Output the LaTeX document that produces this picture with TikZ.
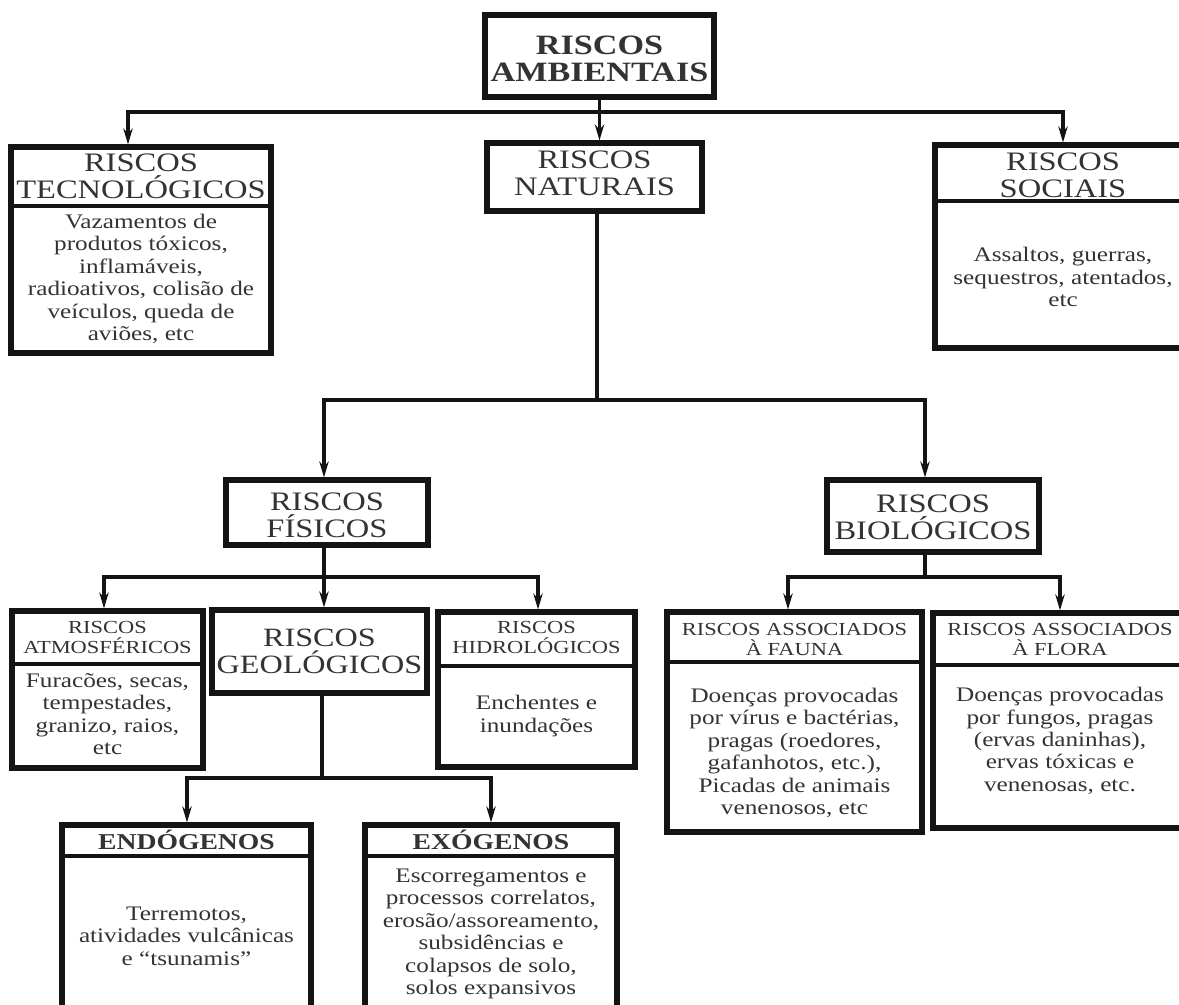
\documentclass[tikz,border=0pt]{standalone}
\usepackage{fontspec}
\setmainfont[FakeStretch=1.22]{Liberation Serif}
\usetikzlibrary{fit,arrows.meta}
\newcommand{\fhdr}{\fontsize{20}{20.3}\selectfont}
\newcommand{\fbdy}{\fontsize{15.5}{16.8}\selectfont}
\newcommand{\fsml}{\fontsize{13.8}{15}\selectfont}
\newcommand{\fgeo}{\fontsize{19.8}{20.3}\selectfont}
\newcommand{\famb}{\fontsize{21}{20.3}\selectfont\bfseries}
\newcommand{\fendo}{\fontsize{17}{18}\selectfont\bfseries}
\begin{document}
\begin{tikzpicture}[x=0.75pt,y=-0.75pt,
  box/.style={draw=black!92, line width=3.8pt, inner sep=0pt},
  divline/.style={draw=black!92, line width=3pt},
  conn/.style={draw=black!92, line width=2.6pt, line join=miter},
  arr/.style={conn, -{Stealth[length=12pt,width=7pt]}},
  txt/.style={align=center, text=black!80, inner sep=0pt}]
\useasboundingbox (0,0) rectangle (1179,1004);
\clip (0,0) rectangle (1179,1004);
\fill[white] (0,0) rectangle (1179,1004);

% boxes
\node[box, fit={(485,15) (714,97)}] (amb) {};
\node[box, fit={(11,147) (271,353)}] (tec) {};
\node[box, fit={(487,143) (702,211)}] (nat) {};
\node[box, fit={(935,145) (1191,348)}] (soc) {};
\node[box, fit={(226,480) (428,545)}] (fis) {};
\node[box, fit={(827,480) (1039,552)}] (bio) {};
\node[box, fit={(12,611) (203,768)}] (atm) {};
\node[box, fit={(212,610) (427,693)}] (geo) {};
\node[box, fit={(438,612) (635,767)}] (hid) {};
\node[box, fit={(667,612) (922,832)}] (fau) {};
\node[box, fit={(933,613) (1187,828)}] (flo) {};
\node[box, fit={(62,825) (311,1030)}] (endo) {};
\node[box, fit={(365,825) (617,1030)}] (exo) {};

% dividers
\draw[divline] (11,206) -- (271,206);
\draw[divline] (935,201) -- (1191,201);
\draw[divline] (12,664) -- (203,664);
\draw[divline] (438,666) -- (635,666);
\draw[divline] (667,662) -- (922,662);
\draw[divline] (933,665) -- (1187,665);
\draw[divline] (62,856) -- (311,856);
\draw[divline] (365,856) -- (617,856);

% texts
\node[txt, font=\famb] (amb-t) at (599.5,58.5) {RISCOS\\AMBIENTAIS};
\node[txt, font=\fhdr] (tec-h) at (141,176.5) {RISCOS\\TECNOLÓGICOS};
\node[txt, font=\fbdy] (tec-b) at (141,279) {Vazamentos de\\produtos tóxicos,\\inflamáveis,\\radioativos, colisão de\\veículos, queda de\\aviões, etc};
\node[txt, font=\fhdr] (nat-t) at (594.5,173.5) {RISCOS\\NATURAIS};
\node[txt, font=\fhdr] (soc-h) at (1063,175.5) {RISCOS\\SOCIAIS};
\node[txt, font=\fbdy] (soc-b) at (1063,277) {Assaltos, guerras,\\sequestros, atentados,\\etc};
\node[txt, font=\fhdr] (fis-t) at (327,515) {RISCOS\\FÍSICOS};
\node[txt, font=\fhdr] (bio-t) at (933,517.5) {RISCOS\\BIOLÓGICOS};
\node[txt, font=\fsml] (atm-h) at (107.5,637) {RISCOS\\ATMOSFÉRICOS};
\node[txt, font=\fbdy] (atm-b) at (107.5,714) {Furacões, secas,\\tempestades,\\granizo, raios,\\etc};
\node[txt, font=\fgeo] (geo-t) at (319.5,651.5) {RISCOS\\GEOLÓGICOS};
\node[txt, font=\fsml] (hid-h) at (536.5,637.5) {RISCOS\\HIDROLÓGICOS};
\node[txt, font=\fbdy] (hid-b) at (536.5,716) {Enchentes e\\inundações};
\node[txt, font=\fsml] (fau-h) at (794.5,639.5) {RISCOS ASSOCIADOS\\À FAUNA};
\node[txt, font=\fbdy] (fau-b) at (794.5,753) {Doenças provocadas\\por vírus e bactérias,\\pragas (roedores,\\gafanhotos, etc.),\\Picadas de animais\\venenosos, etc};
\node[txt, font=\fsml] (flo-h) at (1060,639.5) {RISCOS ASSOCIADOS\\À FLORA};
\node[txt, font=\fbdy] (flo-b) at (1060,741) {Doenças provocadas\\por fungos, pragas\\(ervas daninhas),\\ervas tóxicas e\\venenosas, etc.};
\node[txt, font=\fendo] (endo-h) at (186.5,840) {ENDÓGENOS};
\node[txt, font=\fbdy] (endo-b) at (186.5,936) {Terremotos,\\atividades vulcânicas\\e “tsunamis”};
\node[txt, font=\fendo] (exo-h) at (491,840) {EXÓGENOS};
\node[txt, font=\fbdy] (exo-b) at (491,934) {Escorregamentos e\\processos correlatos,\\erosão/assoreamento,\\subsidências e\\colapsos de solo,\\solos expansivos};

% connectors
\coordinate (j1) at (599.5,112);
\coordinate (j1l) at (128,112);
\coordinate (j1r) at (1063,112);
\draw[conn] (amb.south) -- (j1);
\draw[arr] (j1) -- (j1l) -- (j1l |- tec.north);
\draw[arr] (j1) -- (j1 |- nat.north);
\draw[arr] (j1) -- (j1r) -- (j1r |- soc.north);

\coordinate (j2) at (597,400);
\coordinate (j2l) at (324,400);
\coordinate (j2r) at (925,400);
\draw[conn] (j2 |- nat.south) -- (j2);
\draw[arr] (j2) -- (j2l) -- (j2l |- fis.north);
\draw[arr] (j2) -- (j2r) -- (j2r |- bio.north);

\coordinate (j3) at (324,577);
\coordinate (j3l) at (104,577);
\coordinate (j3r) at (538,577);
\draw[conn] (j3 |- fis.south) -- (j3);
\draw[arr] (j3) -- (j3l) -- (j3l |- atm.north);
\draw[arr] (j3) -- (j3 |- geo.north);
\draw[arr] (j3) -- (j3r) -- (j3r |- hid.north);

\coordinate (j4) at (925,577);
\coordinate (j4l) at (788,577);
\coordinate (j4r) at (1060,577);
\draw[conn] (j4 |- bio.south) -- (j4);
\draw[arr] (j4) -- (j4l) -- (j4l |- fau.north);
\draw[arr] (j4) -- (j4r) -- (j4r |- flo.north);

\coordinate (j5) at (322,778);
\coordinate (j5l) at (187,778);
\coordinate (j5r) at (491,778);
\draw[conn] (j5 |- geo.south) -- (j5);
\draw[arr] (j5) -- (j5l) -- (j5l |- endo.north);
\draw[arr] (j5) -- (j5r) -- (j5r |- exo.north);
\end{tikzpicture}
\end{document}
